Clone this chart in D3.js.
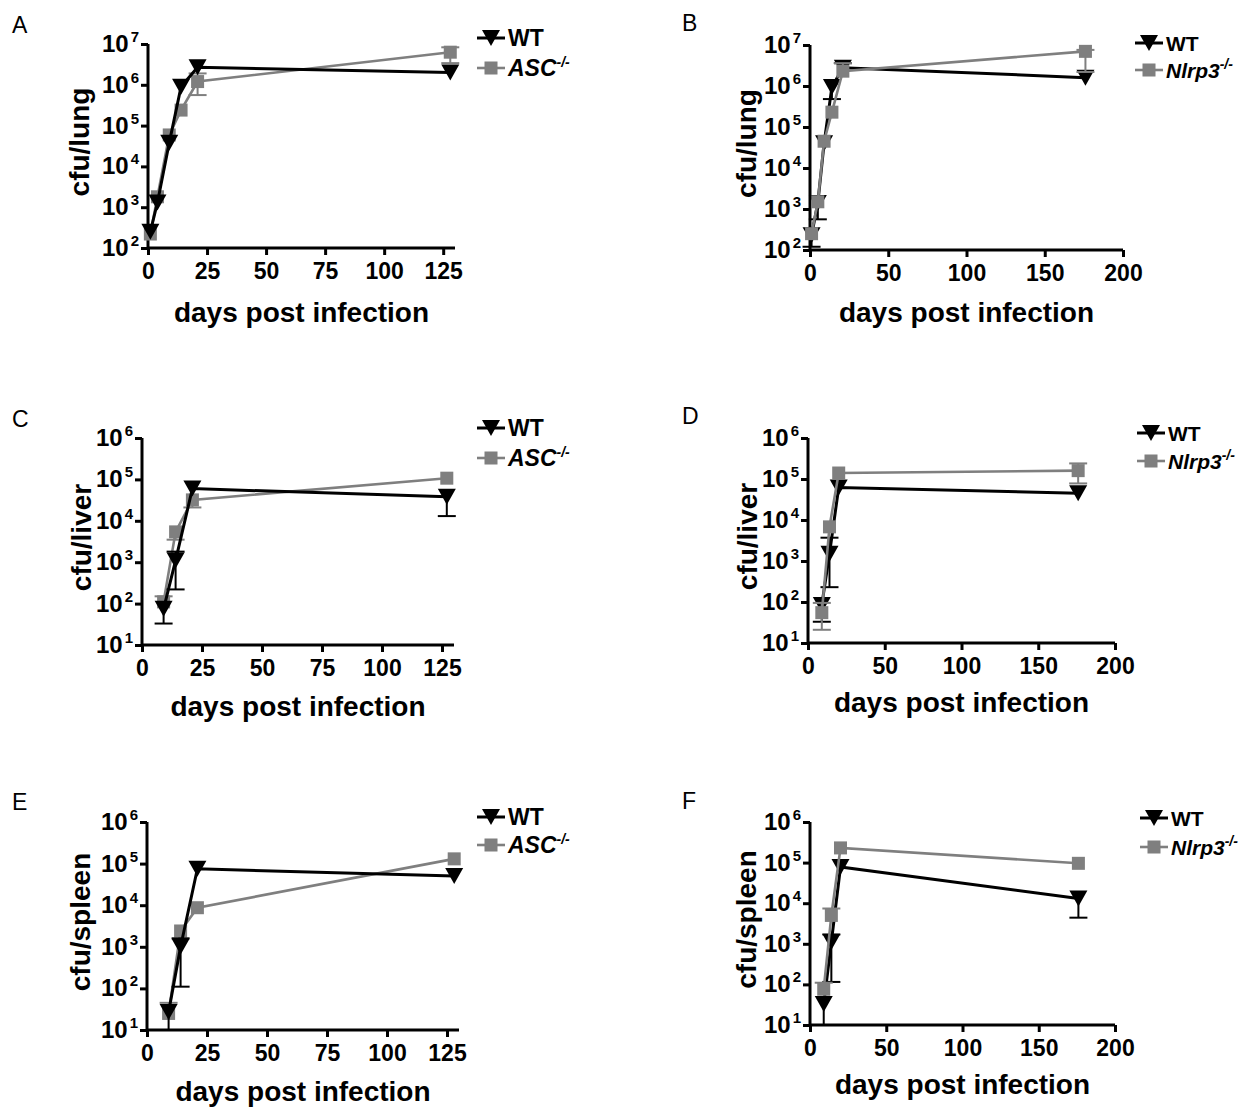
<!DOCTYPE html>
<html>
<head>
<meta charset="utf-8">
<script src="https://cdn.jsdelivr.net/npm/d3@7"></script>
<style>
  body { margin: 0; background: #fff; }
  svg { display: block; font-family: Arial, "Liberation Sans", sans-serif; }
</style>
</head>
<body>
<script>
// values (cfu per organ, log scale)
var lungAscDays = [1, 4, 9, 14, 21, 128];
var lungAscWT   = [250, 1300, 38000, 900000, 2700000, 2000000];
var lungAscKO   = [220, 1800, 59000, 240000, 1200000, 6300000];
var lungAscKOLo = [null, null, null, null, 560000, 3400000];
var lungAscKOHi = [null, null, null, null, 1900000, 8300000];

var lungNlrpDays = [1, 5, 9, 14, 21, 176];
var lungNlrpWT   = [230, 1400, 40000, 950000, 2800000, 1600000];
var lungNlrpWTLo = [120, 560, null, 480000, null, null];
var lungNlrpWTHi = [null, null, null, null, 3600000, null];
var lungNlrpKO   = [250, 1500, 45000, 230000, 2300000, 7000000];
var lungNlrpKOLo = [null, null, null, null, null, 2200000];
var lungNlrpKOHi = [null, null, null, null, 3600000, 7600000];

var liverAscDays = [9, 14, 21, 127];
var liverAscWT   = [75, 1100, 60000, 38000];
var liverAscWTLo = [33, 220, null, 13000];
var liverAscWTHi = [null, 1800, null, null];
var liverAscKO   = [110, 5400, 32000, 107000];
var liverAscKOLo = [null, 3500, 21000, null];
var liverAscKOHi = [150, null, null, null];

var liverNlrpDays = [9, 14, 20, 176];
var liverNlrpWT   = [85, 1500, 62000, 45000];
var liverNlrpWTLo = [33, 230, null, null];
var liverNlrpWTHi = [null, 3700, null, null];
var liverNlrpKO   = [55, 6800, 140000, 160000];
var liverNlrpKOLo = [21, null, null, 78000];
var liverNlrpKOHi = [95, null, null, 240000];

var spleenAscDays = [9, 14, 21, 128];
var spleenAscWT   = [27, 1000, 75000, 50000];
var spleenAscWTLo = [10, 110, null, null];
var spleenAscWTHi = [null, 1600, null, null];
var spleenAscKO   = [25, 2400, 8700, 130000];
var spleenAscKOHi = [45, null, null, null];

var spleenNlrpDays = [9, 14, 20, 176];
var spleenNlrpWT   = [33, 1100, 78000, 13000];
var spleenNlrpWTLo = [10, 115, null, 4400];
var spleenNlrpWTHi = [null, 1700, null, null];
var spleenNlrpKO   = [76, 5000, 230000, 96000];
var spleenNlrpKOHi = [110, 7400, null, null];

var ticks125 = [0, 25, 50, 75, 100, 125];
var ticks200 = [0, 50, 100, 150, 200];

var GREY = "#7f7f7f";

var panels = [
  {letter: "A", lx: 12, ly: 33, organ: "cfu/lung", ko: "ASC",
   days: lungAscDays, wt: lungAscWT, wtLo: null, wtHi: null,
   kov: lungAscKO, koLo: lungAscKOLo, koHi: lungAscKOHi,
   xMax: 130, xTicks: ticks125, yExp: [2, 7],
   box: [148, 455, 248, 44], yLabX: 89, xTitleY: 322,
   leg: [477, 38, 68], legSize: 23, koOnTop: false},
  {letter: "B", lx: 682, ly: 31, organ: "cfu/lung", ko: "Nlrp3",
   days: lungNlrpDays, wt: lungNlrpWT, wtLo: lungNlrpWTLo, wtHi: lungNlrpWTHi,
   kov: lungNlrpKO, koLo: lungNlrpKOLo, koHi: lungNlrpKOHi,
   xMax: 200, xTicks: ticks200, yExp: [2, 7],
   box: [810, 1123, 250, 45], yLabX: 756, xTitleY: 322,
   leg: [1135, 43, 70], legSize: 21, koOnTop: true},
  {letter: "C", lx: 12, ly: 427, organ: "cfu/liver", ko: "ASC",
   days: liverAscDays, wt: liverAscWT, wtLo: liverAscWTLo, wtHi: liverAscWTHi,
   kov: liverAscKO, koLo: liverAscKOLo, koHi: liverAscKOHi,
   xMax: 130, xTicks: ticks125, yExp: [1, 6],
   box: [142, 454, 645, 438], yLabX: 91, xTitleY: 716,
   leg: [477, 428, 458], legSize: 23, koOnTop: false},
  {letter: "D", lx: 682, ly: 424, organ: "cfu/liver", ko: "Nlrp3",
   days: liverNlrpDays, wt: liverNlrpWT, wtLo: liverNlrpWTLo, wtHi: liverNlrpWTHi,
   kov: liverNlrpKO, koLo: liverNlrpKOLo, koHi: liverNlrpKOHi,
   xMax: 200, xTicks: ticks200, yExp: [1, 6],
   box: [808, 1115, 643, 438], yLabX: 757, xTitleY: 712,
   leg: [1137, 433, 461], legSize: 21, koOnTop: true},
  {letter: "E", lx: 12, ly: 810, organ: "cfu/spleen", ko: "ASC",
   days: spleenAscDays, wt: spleenAscWT, wtLo: spleenAscWTLo, wtHi: spleenAscWTHi,
   kov: spleenAscKO, koLo: null, koHi: spleenAscKOHi,
   xMax: 130, xTicks: ticks125, yExp: [1, 6],
   box: [147, 459, 1030, 822], yLabX: 90, xTitleY: 1101,
   leg: [477, 817, 845], legSize: 23, koOnTop: false},
  {letter: "F", lx: 682, ly: 809, organ: "cfu/spleen", ko: "Nlrp3",
   days: spleenNlrpDays, wt: spleenNlrpWT, wtLo: spleenNlrpWTLo, wtHi: spleenNlrpWTHi,
   kov: spleenNlrpKO, koLo: null, koHi: spleenNlrpKOHi,
   xMax: 200, xTicks: ticks200, yExp: [1, 6],
   box: [810, 1115, 1025, 822], yLabX: 756, xTitleY: 1094,
   leg: [1140, 818, 847], legSize: 21, koOnTop: true}
];

var svg = d3.select("body").append("svg")
    .attr("width", 1253)
    .attr("height", 1108);

var triPath = "M-9,-8L9,-8L0,8Z";

function drawSeries(g, p, x, y, vals, lo, hi, isWT) {
  var col = isWT ? "#000" : GREY;
  var pts = p.days.map(function (d, i) { return {d: d, v: vals[i], i: i}; });

  // error bars
  pts.forEach(function (pt) {
    [lo, hi].forEach(function (arr) {
      if (!arr || arr[pt.i] == null) return;
      var yy = y(arr[pt.i]);
      g.append("line")
        .attr("x1", x(pt.d)).attr("x2", x(pt.d))
        .attr("y1", y(pt.v)).attr("y2", yy)
        .attr("stroke", col).attr("stroke-width", 2);
      g.append("line")
        .attr("x1", x(pt.d) - 9).attr("x2", x(pt.d) + 9)
        .attr("y1", yy).attr("y2", yy)
        .attr("stroke", col).attr("stroke-width", 2);
    });
  });

  g.append("path")
    .datum(pts)
    .attr("fill", "none")
    .attr("stroke", col)
    .attr("stroke-width", isWT ? 3 : 2.6)
    .attr("d", d3.line().x(function (d) { return x(d.d); }).y(function (d) { return y(d.v); }));

  if (isWT) {
    g.selectAll(null).data(pts).enter().append("path")
      .attr("d", triPath)
      .attr("transform", function (d) { return "translate(" + x(d.d) + "," + y(d.v) + ")"; })
      .attr("fill", "#000");
  } else {
    g.selectAll(null).data(pts).enter().append("rect")
      .attr("x", function (d) { return x(d.d) - 6.5; })
      .attr("y", function (d) { return y(d.v) - 6.5; })
      .attr("width", 13).attr("height", 13)
      .attr("fill", GREY);
  }
}

panels.forEach(function (p) {
  var g = svg.append("g");
  var x = d3.scaleLinear().domain([0, p.xMax]).range([p.box[0], p.box[1]]);
  var y = d3.scaleLog().domain([Math.pow(10, p.yExp[0]), Math.pow(10, p.yExp[1])])
      .range([p.box[2], p.box[3]]);
  var decades = d3.range(p.yExp[0], p.yExp[1] + 1);

  // panel letter
  g.append("text").attr("x", p.lx).attr("y", p.ly)
    .attr("font-size", 23).text(p.letter);

  // x axis
  var xa = g.append("g").attr("transform", "translate(0," + p.box[2] + ")")
    .call(d3.axisBottom(x).tickValues(p.xTicks).tickSize(7).tickSizeOuter(0).tickPadding(8));
  xa.select(".domain").attr("stroke-width", 3).attr("d", "M" + p.box[0] + ",0H" + p.box[1]);
  xa.selectAll(".tick line").attr("stroke-width", 3);
  xa.selectAll(".tick text").attr("font-size", 23).attr("font-weight", "bold")
    .attr("font-family", "Arial, 'Liberation Sans', sans-serif").attr("fill", "#000");

  // y axis
  var ya = g.append("g").attr("transform", "translate(" + p.box[0] + ",0)")
    .call(d3.axisLeft(y).tickValues(decades.map(function (e) { return Math.pow(10, e); }))
      .tickSize(7).tickSizeOuter(0).tickFormat(""));
  ya.select(".domain").attr("stroke-width", 3)
    .attr("d", "M0," + (p.box[2] + 1.5) + "V" + p.box[3]);
  ya.selectAll(".tick line").attr("stroke-width", 3);

  decades.forEach(function (e) {
    var t = g.append("text")
      .attr("x", p.box[0] - 9)
      .attr("y", y(Math.pow(10, e)) + 8)
      .attr("text-anchor", "end")
      .attr("font-weight", "bold");
    t.append("tspan").attr("font-size", 24).text("10");
    t.append("tspan").attr("font-size", 15).attr("dx", 2).attr("dy", -10).text(e);
  });

  // axis titles
  g.append("text")
    .attr("x", (p.box[0] + p.box[1]) / 2).attr("y", p.xTitleY)
    .attr("text-anchor", "middle").attr("font-size", 28).attr("font-weight", "bold")
    .text("days post infection");
  g.append("text")
    .attr("transform", "translate(" + p.yLabX + "," + ((p.box[2] + p.box[3]) / 2 - 4) + ") rotate(-90)")
    .attr("text-anchor", "middle").attr("font-size", 28).attr("font-weight", "bold")
    .text(p.organ);

  // series
  if (p.koOnTop) {
    drawSeries(g, p, x, y, p.wt, p.wtLo, p.wtHi, true);
    drawSeries(g, p, x, y, p.kov, p.koLo, p.koHi, false);
  } else {
    drawSeries(g, p, x, y, p.kov, p.koLo, p.koHi, false);
    drawSeries(g, p, x, y, p.wt, p.wtLo, p.wtHi, true);
  }

  // legend
  var lx = p.leg[0];
  g.append("line").attr("x1", lx).attr("x2", lx + 28).attr("y1", p.leg[1]).attr("y2", p.leg[1])
    .attr("stroke", "#000").attr("stroke-width", 3);
  g.append("path").attr("d", triPath).attr("transform", "translate(" + (lx + 14) + "," + p.leg[1] + ")");
  g.append("text").attr("x", lx + 31).attr("y", p.leg[1] + p.legSize * 0.36)
    .attr("font-size", p.legSize).attr("font-weight", "bold").text("WT");

  g.append("line").attr("x1", lx).attr("x2", lx + 28).attr("y1", p.leg[2]).attr("y2", p.leg[2])
    .attr("stroke", GREY).attr("stroke-width", 2.6);
  g.append("rect").attr("x", lx + 7.5).attr("y", p.leg[2] - 6.5).attr("width", 13).attr("height", 13)
    .attr("fill", GREY);
  var kt = g.append("text").attr("x", lx + 31).attr("y", p.leg[2] + p.legSize * 0.36)
    .attr("font-size", p.legSize).attr("font-weight", "bold").attr("font-style", "italic");
  kt.append("tspan").text(p.ko);
  kt.append("tspan").attr("font-size", 14).attr("dy", -9).text("-/-");
});
</script>
</body>
</html>
